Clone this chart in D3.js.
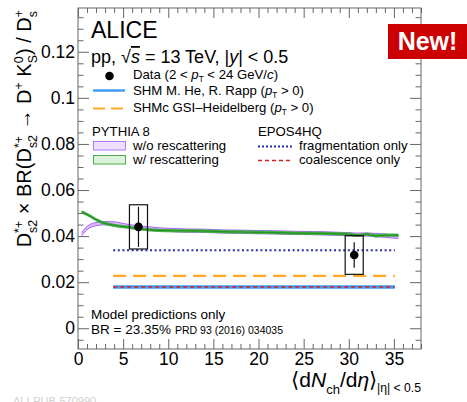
<!DOCTYPE html>
<html>
<head>
<meta charset="utf-8">
<script src="https://cdn.jsdelivr.net/npm/d3@7"></script>
<style>
  body { margin: 0; background: #fff; }
  svg { display: block; font-family: 'Liberation Sans', Arial, sans-serif; }
  text { white-space: pre; }
</style>
</head>
<body>
<script>
// ---- data ----
const dataX = [6.7, 30.6];
const dataY = [0.0440, 0.0318];
const statErr = [0.0087, 0.0055];
const sysErr = [0.0096, 0.0084];
const sysHalfWidth = 1.0;

// PYTHIA 8 curves
const pythiaX = [0.4, 1, 2, 3, 4, 5, 6, 7, 8, 9, 10, 12, 14, 16, 18, 20, 22, 24, 26, 28, 30, 31, 32, 33, 34, 35, 35.5];
const withResc = [0.0505, 0.0494, 0.0472, 0.0455, 0.0447, 0.0441, 0.0436, 0.0431, 0.0427, 0.0425, 0.0424, 0.0423, 0.0422, 0.0419,
  0.0418, 0.0416, 0.0415, 0.0413, 0.0412, 0.0411, 0.0409, 0.0403, 0.0408, 0.0401, 0.0404, 0.0404, 0.0403];
const withoutResc = [0.0408, 0.0435, 0.0452, 0.0456, 0.0455, 0.0448, 0.0441, 0.0436, 0.0433, 0.0429, 0.0427, 0.0424, 0.0423, 0.0420,
  0.0419, 0.0417, 0.0416, 0.0414, 0.0413, 0.0411, 0.0408, 0.0406, 0.0407, 0.0404, 0.0402, 0.0398, 0.0397];

// flat model predictions
const modelRange = [3.9, 35.1];
const shmHeRapp = 0.0179;
const shmcGSI = 0.0227;
const eposFrag = 0.0339;
const eposCoal = 0.0179;

const xMajor = [0, 5, 10, 15, 20, 25, 30, 35];
const yMajor = [0, 0.02, 0.04, 0.06, 0.08, 0.1, 0.12];
const yLabels = ['0', '0.02', '0.04', '0.06', '0.08', '0.1', '0.12'];

// ---- layout ----
const W = 467, H = 402;
const plot = { left: 78, right: 421, top: 8, bottom: 349 };
const legSize = 13.2;

const svg = d3.select('body').append('svg').attr('width', W).attr('height', H);

const x = d3.scaleLinear().domain([0, 38]).range([plot.left, plot.right]);
const y = d3.scaleLinear().domain([-0.009, 0.139]).range([plot.bottom, plot.top]);

const axisColor = '#666';

// rich text: one <text>, tspans placed left to right, stacked sub/superscripts
function rich(parent, segs, size, anchor) {
  const txt = parent.append('text');
  let cx = 0;
  segs.forEach((s) => {
    if (s.t !== undefined) {
      const t = txt.append('tspan').attr('x', cx).attr('y', 0).attr('font-size', size)
        .attr('font-style', s.it ? 'italic' : null).text(s.t);
      if (s.over) t.style('text-decoration', 'overline');
      cx += t.node().getComputedTextLength();
    } else {
      const ss = size * (s.scale || 0.62);
      let w = 0;
      if (s.sup) {
        const t = txt.append('tspan').attr('x', cx).attr('y', -size * 0.42).attr('font-size', ss).text(s.sup);
        w = Math.max(w, t.node().getComputedTextLength());
      }
      if (s.sub) {
        const t = txt.append('tspan').attr('x', cx).attr('y', size * (s.sup ? 0.3 : (s.low || 0.22))).attr('font-size', ss).text(s.sub);
        w = Math.max(w, t.node().getComputedTextLength());
      }
      cx += w;
    }
  });
  if (anchor === 'end') txt.selectAll('tspan').attr('x', function () { return +d3.select(this).attr('x') - cx; });
  return txt;
}

// ---- PYTHIA bands ----
const pyth = pythiaX.map((px, i) => ({ x: px, g: withResc[i], p: withoutResc[i] }));
const half = 0.0007;
const bandP = d3.area().curve(d3.curveMonotoneX).x((d) => x(d.x)).y0((d) => y(d.p - half)).y1((d) => y(d.p + half));
const bandG = d3.area().curve(d3.curveMonotoneX).x((d) => x(d.x)).y0((d) => y(d.g - half)).y1((d) => y(d.g + half));
const lineOf = (k, off) => d3.line().curve(d3.curveMonotoneX).x((d) => x(d.x)).y((d) => y(d[k] + off));

svg.append('path').datum(pyth).attr('d', bandP).attr('fill', '#dcbcff');
svg.append('path').datum(pyth).attr('d', lineOf('p', half)).attr('fill', 'none').attr('stroke', '#a864f5').attr('stroke-width', 1);
svg.append('path').datum(pyth).attr('d', lineOf('p', -half)).attr('fill', 'none').attr('stroke', '#a864f5').attr('stroke-width', 1);
svg.append('path').datum(pyth).attr('d', bandG).attr('fill', '#44ad44');
svg.append('path').datum(pyth).attr('d', lineOf('g', 0)).attr('fill', 'none').attr('stroke', '#249424').attr('stroke-width', 1.1);

// ---- model lines ----
function hline(v, color, width, dash) {
  svg.append('line').attr('x1', x(modelRange[0])).attr('x2', x(modelRange[1]))
    .attr('y1', y(v)).attr('y2', y(v)).attr('stroke', color).attr('stroke-width', width)
    .attr('stroke-dasharray', dash);
}
hline(shmcGSI, '#ffa726', 2.2, '13,7');
hline(shmHeRapp, '#3d9df5', 3.5, null);
hline(eposCoal, '#dd2020', 1.6, '4,3');
hline(eposFrag, '#2b2bb0', 2, '2,2.6');

// ---- data ----
dataX.forEach((dx, i) => {
  svg.append('rect').attr('x', x(dx - sysHalfWidth)).attr('width', x(dx + sysHalfWidth) - x(dx - sysHalfWidth))
    .attr('y', y(dataY[i] + sysErr[i])).attr('height', y(dataY[i] - sysErr[i]) - y(dataY[i] + sysErr[i]))
    .attr('fill', 'none').attr('stroke', '#111').attr('stroke-width', 1.2);
  svg.append('line').attr('x1', x(dx)).attr('x2', x(dx))
    .attr('y1', y(dataY[i] + statErr[i])).attr('y2', y(dataY[i] - statErr[i]))
    .attr('stroke', '#111').attr('stroke-width', 1.2);
  svg.append('circle').attr('cx', x(dx)).attr('cy', y(dataY[i])).attr('r', 4.3).attr('fill', '#000');
});

// ---- axes ----
const xMinor = d3.range(0, 39, 1).filter((v) => v % 5 !== 0);
const yMinor = d3.range(-0.005, 0.1375, 0.005).filter((v) => Math.abs(Math.round(v / 0.02) * 0.02 - v) > 1e-6);

function addAxis(axis, tr) {
  const g = svg.append('g').attr('transform', tr).call(axis);
  g.select('.domain').remove();
  g.selectAll('line').attr('stroke', axisColor);
  g.selectAll('text').attr('fill', '#000').attr('font-size', 17.5).attr('font-family', "'Liberation Sans', Arial, sans-serif");
  return g;
}

addAxis(d3.axisBottom(x).tickValues(xMajor).tickSize(-10).tickPadding(4).tickFormat(d3.format('d')), `translate(0,${plot.bottom})`);
addAxis(d3.axisBottom(x).tickValues(xMinor).tickSize(-5).tickFormat(''), `translate(0,${plot.bottom})`);
addAxis(d3.axisTop(x).tickValues(xMajor).tickSize(-10).tickFormat(''), `translate(0,${plot.top})`);
addAxis(d3.axisTop(x).tickValues(xMinor).tickSize(-5).tickFormat(''), `translate(0,${plot.top})`);

addAxis(d3.axisLeft(y).tickValues(yMajor).tickSize(-11).tickPadding(3).tickFormat((d, i) => yLabels[i]), `translate(${plot.left},0)`);
addAxis(d3.axisLeft(y).tickValues(yMinor).tickSize(-5.5).tickFormat(''), `translate(${plot.left},0)`);
addAxis(d3.axisRight(y).tickValues(yMajor).tickSize(-11).tickFormat(''), `translate(${plot.right},0)`);
addAxis(d3.axisRight(y).tickValues(yMinor).tickSize(-5.5).tickFormat(''), `translate(${plot.right},0)`);

svg.append('rect').attr('x', plot.left).attr('y', plot.top)
  .attr('width', plot.right - plot.left).attr('height', plot.bottom - plot.top)
  .attr('fill', 'none').attr('stroke', axisColor).attr('stroke-width', 1);

// axis titles
const yTitle = rich(svg, [
  { t: 'D' }, { sup: '*+', sub: 's2' }, { t: ' × BR(D' }, { sup: '*+', sub: 's2' },
  { t: ' → D' }, { sup: '+' }, { t: ' K' }, { sup: '0', sub: 'S' }, { t: ') / D' }, { sup: '+', sub: 's' },
], 20, 'end');
yTitle.attr('transform', 'translate(31,10) rotate(-90)');

const xTitle = rich(svg, [
  { t: '⟨d' }, { t: 'N', it: true }, { sub: 'ch', scale: 0.62, low: 0.35 }, { t: '/d' }, { t: 'η', it: true }, { t: '⟩' },
  { sub: '|η| < 0.5', scale: 0.58, low: 0.25 },
], 21, 'end');
xTitle.attr('transform', 'translate(421,387)');

// ---- legend / labels ----
svg.append('text').attr('x', 91).attr('y', 38).attr('font-size', 23).text('ALICE');
rich(svg, [
  { t: 'pp, √' }, { t: 's', it: true, over: true }, { t: ' = 13 TeV, |' }, { t: 'y', it: true }, { t: '| < 0.5' },
], 18).attr('transform', 'translate(91,63)');

svg.append('circle').attr('cx', 109.5).attr('cy', 76).attr('r', 4.3).attr('fill', '#000');
rich(svg, [
  { t: 'Data (2 < ' }, { t: 'p', it: true }, { sub: 'T' }, { t: ' < 24 GeV/' }, { t: 'c', it: true }, { t: ')' },
], legSize).attr('transform', 'translate(133,79)');

svg.append('line').attr('x1', 93).attr('x2', 125).attr('y1', 90.5).attr('y2', 90.5)
  .attr('stroke', '#3d9df5').attr('stroke-width', 2.5);
rich(svg, [
  { t: 'SHM M. He, R. Rapp (' }, { t: 'p', it: true }, { sub: 'T' }, { t: ' > 0)' },
], legSize).attr('transform', 'translate(133,95)');

svg.append('line').attr('x1', 93).attr('x2', 125).attr('y1', 108.5).attr('y2', 108.5)
  .attr('stroke', '#ffa726').attr('stroke-width', 2).attr('stroke-dasharray', '12,6');
rich(svg, [
  { t: 'SHMc GSI–Heidelberg (' }, { t: 'p', it: true }, { sub: 'T' }, { t: ' > 0)' },
], legSize).attr('transform', 'translate(133,112)');

svg.append('text').attr('x', 92).attr('y', 136).attr('font-size', legSize).text('PYTHIA 8');
svg.append('rect').attr('x', 93.5).attr('y', 141.5).attr('width', 32).attr('height', 8.5)
  .attr('fill', '#ecdfff').attr('stroke', '#b47cf6').attr('stroke-width', 1);
svg.append('text').attr('x', 133).attr('y', 149.5).attr('font-size', legSize).text('w/o rescattering');
svg.append('rect').attr('x', 93.5).attr('y', 155.5).attr('width', 32).attr('height', 8.5)
  .attr('fill', '#dcf2dc').attr('stroke', '#48ad48').attr('stroke-width', 1);
svg.append('text').attr('x', 133).attr('y', 163.5).attr('font-size', legSize).text('w/ rescattering');

svg.append('text').attr('x', 258).attr('y', 136).attr('font-size', legSize).text('EPOS4HQ');
svg.append('line').attr('x1', 258).attr('x2', 292).attr('y1', 146.5).attr('y2', 146.5)
  .attr('stroke', '#2b2bb0').attr('stroke-width', 1.8).attr('stroke-dasharray', '2,2');
svg.append('text').attr('x', 299).attr('y', 149.5).attr('font-size', legSize).text('fragmentation only');
svg.append('line').attr('x1', 258).attr('x2', 292).attr('y1', 160.5).attr('y2', 160.5)
  .attr('stroke', '#dd2020').attr('stroke-width', 1.6).attr('stroke-dasharray', '4,3');
svg.append('text').attr('x', 299).attr('y', 163.5).attr('font-size', legSize).text('coalescence only');

svg.append('text').attr('x', 91).attr('y', 319).attr('font-size', 13.5).text('Model predictions only');
svg.append('text').attr('x', 91).attr('y', 334).attr('font-size', 13.5).text('BR = 23.35%');
svg.append('text').attr('x', 175).attr('y', 334).attr('font-size', 10.5).text('PRD 93 (2016) 034035');

// "New!" badge
svg.append('rect').attr('x', 388).attr('y', 24).attr('width', 80).attr('height', 35).attr('fill', '#cc0000');
svg.append('text').attr('x', 427.5).attr('y', 50).attr('text-anchor', 'middle').attr('font-size', 25)
  .attr('font-weight', 'bold').attr('fill', '#fff').text('New!');

// faint figure id at the bottom (cut by the frame, as in the original)
svg.append('text').attr('x', 13).attr('y', 405).attr('font-size', 11).attr('fill', '#d0d0d0').text('ALI-PUB-570990');
</script>
</body>
</html>
